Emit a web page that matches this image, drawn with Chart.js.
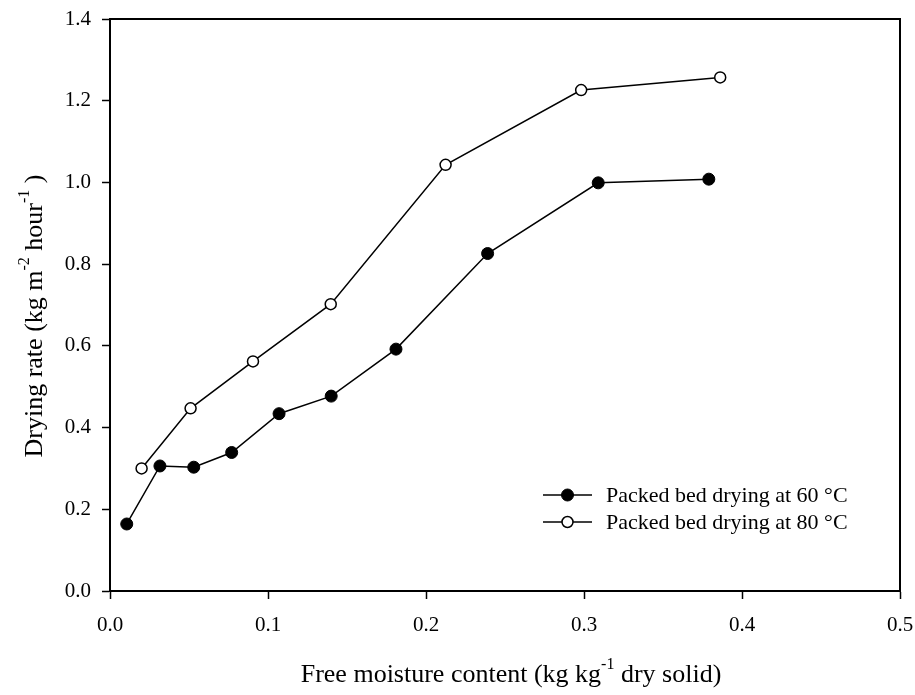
<!DOCTYPE html>
<html>
<head>
<meta charset="utf-8">
<script src="https://cdn.jsdelivr.net/npm/chart.js@4/dist/chart.umd.min.js"></script>
<style>
html,body{margin:0;padding:0;background:#fff;}
canvas{display:block;}
</style>
</head>
<body>
<canvas id="c" width="915" height="695"></canvas>
<script>
// ---- data ----
const x60 = [0.0106, 0.0316, 0.053, 0.077, 0.107, 0.140, 0.181, 0.239, 0.309, 0.379];
const y60 = [0.164, 0.306, 0.303, 0.339, 0.434, 0.477, 0.592, 0.826, 0.999, 1.008];
const x80 = [0.020, 0.051, 0.0905, 0.1397, 0.2124, 0.2982, 0.3862];
const y80 = [0.300, 0.447, 0.562, 0.702, 1.043, 1.226, 1.257];
const seriesLabels = ['Packed bed drying at 60 °C', 'Packed bed drying at 80 °C'];
const xTicks = [0.0, 0.1, 0.2, 0.3, 0.4, 0.5];
const yTicks = [0.0, 0.2, 0.4, 0.6, 0.8, 1.0, 1.2, 1.4];
const xTitleParts = [['Free moisture content (kg kg', false], ['-1', true], [' dry solid)', false]];
const yTitleParts = [['Drying rate (kg m', false], ['-2', true], [' hour', false], ['-1', true], [' )', false]];

const FONT = '"Liberation Serif", "Times New Roman", serif';

function toPts(xs, ys) { return xs.map((x, i) => ({x: x, y: ys[i]})); }

function drawRich(ctx, parts, size, supSize, supRise) {
  const widths = parts.map(p => {
    ctx.font = (p[1] ? supSize : size) + 'px ' + FONT;
    return ctx.measureText(p[0]).width;
  });
  const total = widths.reduce((a, b) => a + b, 0);
  let x = -total / 2;
  parts.forEach((p, i) => {
    ctx.font = (p[1] ? supSize : size) + 'px ' + FONT;
    ctx.fillText(p[0], x, p[1] ? -supRise : 0);
    x += widths[i];
  });
  return total;
}

const decor = {
  id: 'decor',
  beforeDatasetsDraw(chart) {
    const {ctx, chartArea: a} = chart;
    ctx.save();
    ctx.strokeStyle = '#000';
    ctx.lineWidth = 2;
    ctx.beginPath();
    ctx.moveTo(a.left, a.top);
    ctx.lineTo(a.right, a.top);
    ctx.lineTo(a.right, a.bottom);
    ctx.stroke();
    ctx.restore();
  },
  afterDraw(chart) {
    const {ctx} = chart;
    ctx.save();
    ctx.fillStyle = '#000';
    ctx.textBaseline = 'alphabetic';
    ctx.textAlign = 'left';
    // x title
    ctx.save();
    ctx.translate(511, 682);
    drawRich(ctx, xTitleParts, 26, 16, 13);
    ctx.restore();
    // y title
    ctx.save();
    ctx.translate(42, 316);
    ctx.rotate(-Math.PI / 2);
    drawRich(ctx, yTitleParts, 26, 16, 13);
    ctx.restore();
    // legend
    const ds = chart.data.datasets;
    const lx0 = 543, lx1 = 592, tx = 606;
    const rows = [495, 522];
    ds.forEach((d, i) => {
      const y = rows[i];
      ctx.strokeStyle = d.borderColor;
      ctx.lineWidth = d.borderWidth;
      ctx.beginPath();
      ctx.moveTo(lx0, y);
      ctx.lineTo(lx1, y);
      ctx.stroke();
      ctx.beginPath();
      ctx.arc((lx0 + lx1) / 2, y, d.pointRadius, 0, Math.PI * 2);
      ctx.fillStyle = d.pointBackgroundColor;
      ctx.fill();
      ctx.lineWidth = d.pointBorderWidth;
      ctx.strokeStyle = d.pointBorderColor;
      ctx.stroke();
      ctx.fillStyle = '#000';
      ctx.font = '22px ' + FONT;
      ctx.textBaseline = 'middle';
      ctx.fillText(d.label, tx, y + 1);
    });
    ctx.restore();
  }
};

new Chart(document.getElementById('c'), {
  type: 'scatter',
  data: {
    datasets: [
      {
        label: seriesLabels[0],
        data: toPts(x60, y60),
        showLine: true,
        borderColor: '#000',
        borderWidth: 1.5,
        pointRadius: 6,
        pointBackgroundColor: '#000',
        pointBorderColor: '#000',
        pointBorderWidth: 1
      },
      {
        label: seriesLabels[1],
        data: toPts(x80, y80),
        showLine: true,
        borderColor: '#000',
        borderWidth: 1.5,
        pointRadius: 5.5,
        pointBackgroundColor: '#fff',
        pointBorderColor: '#000',
        pointBorderWidth: 1.5
      }
    ]
  },
  options: {
    responsive: false,
    animation: false,
    layout: {padding: {top: 19, right: 15, left: 0, bottom: 0}},
    plugins: {legend: {display: false}, tooltip: {enabled: false}},
    scales: {
      x: {
        type: 'linear',
        min: 0, max: 0.5,
        afterBuildTicks: s => { s.ticks = xTicks.map(v => ({value: v})); },
        afterFit: s => { s.height = 104; s.paddingLeft = 0; s.paddingRight = 0; },
        grid: {drawOnChartArea: false, drawTicks: true, tickLength: 8, tickColor: '#000', tickWidth: 1.5},
        border: {display: true, color: '#000', width: 2},
        ticks: {
          color: '#000',
          font: {family: FONT, size: 21},
          padding: 14,
          maxRotation: 0,
          callback: v => v.toFixed(1)
        }
      },
      y: {
        type: 'linear',
        min: 0, max: 1.4,
        afterBuildTicks: s => { s.ticks = yTicks.map(v => ({value: v})); },
        afterFit: s => { s.width = 110; s.paddingTop = 0; s.paddingBottom = 0; },
        grid: {drawOnChartArea: false, drawTicks: true, tickLength: 8, tickColor: '#000', tickWidth: 1.5},
        border: {display: true, color: '#000', width: 2},
        ticks: {
          color: '#000',
          font: {family: FONT, size: 21},
          padding: 11,
          callback: v => v.toFixed(1)
        }
      }
    }
  },
  plugins: [decor]
});
</script>
</body>
</html>
